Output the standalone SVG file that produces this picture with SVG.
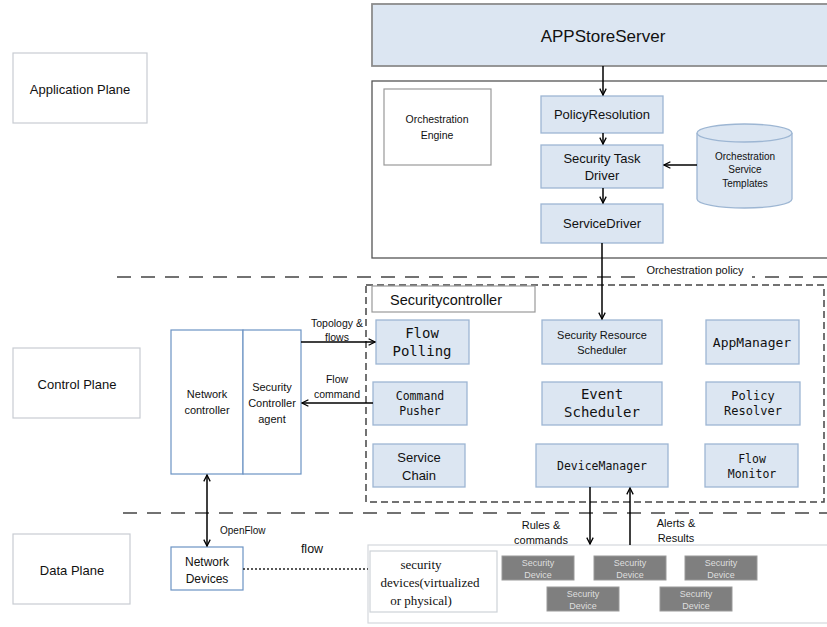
<svg xmlns="http://www.w3.org/2000/svg" width="827" height="627" viewBox="0 0 827 627">
<defs>
<marker id="ah" viewBox="0 0 10 10" refX="9" refY="5" markerWidth="8" markerHeight="8" orient="auto-start-reverse" markerUnits="userSpaceOnUse">
<path d="M1,1 L9,5 L1,9" fill="none" stroke="#000" stroke-width="1.6"/>
</marker>
<style>
text{font-family:"Liberation Sans",Arial,sans-serif;fill:#111;text-anchor:middle}
.mono{font-family:"DejaVu Sans Mono","Liberation Mono",monospace}
.serif{font-family:"Liberation Serif","Times New Roman",serif}
.plane{fill:#fff;stroke:#c8ccd2;stroke-width:1.2}
.blue{fill:#dce6f2;stroke:#9db6d3;stroke-width:1.3}
.nb{fill:#fff;stroke:#6c93c4;stroke-width:1.2}
.dev{fill:#7f7f7f;stroke:#9a9a9a;stroke-width:1}
.devt{fill:#dedede;font-size:9px}
.conn{stroke:#000;stroke-width:1.5;fill:none}
.dash{stroke:#444;stroke-width:1.5;fill:none;stroke-dasharray:14 10}
</style>
</defs>

<g id="application-plane"><rect class="plane" x="13" y="53" width="134" height="70"/><text x="80" y="94" font-size="13">Application Plane</text></g>
<g id="control-plane"><rect class="plane" x="13" y="348" width="127" height="70"/><text x="77" y="389" font-size="13">Control Plane</text></g>
<g id="data-plane"><rect class="plane" x="13" y="534" width="117" height="70"/><text x="72" y="575" font-size="13">Data Plane</text></g>

<g id="plane-separators">
<line class="dash" x1="117" y1="277" x2="827" y2="277"/>
<line class="dash" x1="123" y1="513" x2="827" y2="513"/>
</g>

<g id="appstoreserver"><rect x="372" y="4" width="460" height="62" fill="#dce6f2" stroke="#8c8c8c" stroke-width="1.8"/><text x="603" y="42" font-size="17">APPStoreServer</text></g>

<g id="orchestration-area"><rect x="372" y="81" width="460" height="177" fill="#fff" stroke="#555" stroke-width="1.3"/></g>
<g id="orchestration-engine"><rect x="384" y="89" width="107" height="76" fill="#fff" stroke="#999" stroke-width="1.2"/><text x="437" y="123" font-size="10.5">Orchestration</text><text x="437" y="139" font-size="10.5">Engine</text></g>
<g id="policyresolution"><rect class="blue" x="541" y="96" width="122" height="37"/><text x="602" y="119" font-size="13">PolicyResolution</text></g>
<g id="security-task-driver"><rect class="blue" x="541" y="145" width="122" height="43"/><text x="602" y="163" font-size="13">Security Task</text><text x="602" y="180" font-size="13">Driver</text></g>
<g id="servicedriver"><rect class="blue" x="541" y="204" width="122" height="39"/><text x="602" y="228" font-size="13">ServiceDriver</text></g>
<g id="orchestration-service-templates">
<path d="M697,133 L697,199 A47.5,9 0 0 0 792,199 L792,133" fill="#dce6f2" stroke="#9db6d3" stroke-width="1.3"/>
<ellipse cx="744.5" cy="133" rx="47.5" ry="9" fill="#dce6f2" stroke="#9db6d3" stroke-width="1.3"/>
<text x="745" y="160" font-size="10">Orchestration</text><text x="745" y="173" font-size="10">Service</text><text x="745" y="187" font-size="10">Templates</text>
</g>

<g id="securitycontroller-area"><rect x="366" y="285" width="458" height="217" fill="none" stroke="#444" stroke-width="1.5" stroke-dasharray="7 4"/></g>
<g id="securitycontroller-label"><rect x="372" y="286" width="163" height="26" fill="#fff" stroke="#999" stroke-width="1.2"/><text x="390" y="305" font-size="14.5" style="text-anchor:start">Securitycontroller</text></g>
<g id="flow-polling"><rect class="blue" x="376" y="320" width="93" height="44"/><text class="mono" x="422" y="338" font-size="14">Flow</text><text class="mono" x="422" y="356" font-size="14">Polling</text></g>
<g id="security-resource-scheduler"><rect class="blue" x="542" y="320" width="120" height="44"/><text x="602" y="339" font-size="11">Security Resource</text><text x="602" y="354" font-size="11">Scheduler</text></g>
<g id="appmanager"><rect class="blue" x="706" y="320" width="93" height="44"/><text class="mono" x="752" y="347" font-size="13">AppManager</text></g>
<g id="command-pusher"><rect class="blue" x="373" y="382" width="94" height="43"/><text class="mono" x="420" y="400" font-size="11.5">Command</text><text class="mono" x="420" y="415" font-size="11.5">Pusher</text></g>
<g id="event-scheduler"><rect class="blue" x="542" y="382" width="120" height="43"/><text class="mono" x="602" y="399" font-size="14">Event</text><text class="mono" x="602" y="417" font-size="14">Scheduler</text></g>
<g id="policy-resolver"><rect class="blue" x="706" y="382" width="94" height="43"/><text class="mono" x="753" y="400" font-size="12">Policy</text><text class="mono" x="753" y="415" font-size="12">Resolver</text></g>
<g id="service-chain"><rect class="blue" x="373" y="444" width="92" height="43"/><text x="419" y="462" font-size="13">Service</text><text x="419" y="480" font-size="13">Chain</text></g>
<g id="devicemanager"><rect class="blue" x="536" y="444" width="132" height="43"/><text class="mono" x="602" y="470" font-size="11.5">DeviceManager</text></g>
<g id="flow-monitor"><rect class="blue" x="705" y="444" width="93" height="43"/><text class="mono" x="752" y="463" font-size="11.5">Flow</text><text class="mono" x="752" y="478" font-size="11.5">Monitor</text></g>

<g id="network-controller"><rect class="nb" x="171" y="330" width="72" height="144"/><text x="207" y="398" font-size="11">Network</text><text x="207" y="414" font-size="11">controller</text></g>
<g id="security-controller-agent"><rect class="nb" x="243" y="330" width="58" height="144"/><text x="272" y="391" font-size="11">Security</text><text x="272" y="407" font-size="11">Controller</text><text x="272" y="423" font-size="11">agent</text></g>

<g id="network-devices"><rect class="nb" x="171" y="547" width="72" height="43"/><text x="207" y="566" font-size="12">Network</text><text x="207" y="583" font-size="12">Devices</text></g>

<g id="security-devices-area"><rect x="368" y="545" width="464" height="78" fill="#fff" stroke="#d4d8dc" stroke-width="1.2"/></g>
<g id="security-devices-label"><rect x="370" y="551" width="127" height="61" fill="#fff" stroke="#cdd2d8" stroke-width="1.2"/><text class="serif" x="421" y="569" font-size="13">security</text><text class="serif" x="430" y="587" font-size="13">devices(virtualized</text><text class="serif" x="421" y="605" font-size="13">or physical)</text></g>
<g id="security-device-1"><rect class="dev" x="502" y="556" width="72" height="24"/><text class="devt" x="538" y="566">Security</text><text class="devt" x="538" y="578">Device</text></g>
<g id="security-device-2"><rect class="dev" x="594" y="556" width="72" height="24"/><text class="devt" x="630" y="566">Security</text><text class="devt" x="630" y="578">Device</text></g>
<g id="security-device-3"><rect class="dev" x="685" y="556" width="72" height="24"/><text class="devt" x="721" y="566">Security</text><text class="devt" x="721" y="578">Device</text></g>
<g id="security-device-4"><rect class="dev" x="547" y="587" width="72" height="24"/><text class="devt" x="583" y="597">Security</text><text class="devt" x="583" y="609">Device</text></g>
<g id="security-device-5"><rect class="dev" x="660" y="587" width="72" height="24"/><text class="devt" x="696" y="597">Security</text><text class="devt" x="696" y="609">Device</text></g>

<g id="connectors">
<line class="conn" x1="603" y1="66" x2="603" y2="95" marker-end="url(#ah)"/>
<line class="conn" x1="603" y1="133" x2="603" y2="144" marker-end="url(#ah)"/>
<line class="conn" x1="603" y1="188" x2="603" y2="203" marker-end="url(#ah)"/>
<line class="conn" x1="697" y1="165" x2="664" y2="165" marker-end="url(#ah)"/>
<line class="conn" x1="602" y1="243" x2="602" y2="319" marker-end="url(#ah)"/>
<line class="conn" x1="301" y1="342" x2="375" y2="342" marker-end="url(#ah)"/>
<line class="conn" x1="373" y1="403" x2="302" y2="403" marker-end="url(#ah)"/>
<line class="conn" x1="207" y1="475" x2="207" y2="546" marker-start="url(#ah)" marker-end="url(#ah)"/>
<line x1="243" y1="569" x2="368" y2="569" stroke="#222" stroke-width="1.5" stroke-dasharray="2 2"/>
<line class="conn" x1="590" y1="487" x2="590" y2="544" marker-end="url(#ah)"/>
<line class="conn" x1="630" y1="545" x2="630" y2="488" marker-end="url(#ah)"/>
</g>

<g id="connector-labels">
<rect x="640" y="263" width="112" height="16" fill="#fff"/>
<text x="695" y="274" font-size="11">Orchestration policy</text>
<text x="337" y="327" font-size="10.5">Topology &amp;</text>
<text x="337" y="341" font-size="10.5">flows</text>
<text x="337" y="383" font-size="10.5">Flow</text>
<text x="337" y="398" font-size="10.5">command</text>
<text x="220" y="534" font-size="10" style="text-anchor:start">OpenFlow</text>
<text x="312" y="553" font-size="12.5">flow</text>
<text x="541" y="529" font-size="11">Rules &amp;</text>
<text x="541" y="544" font-size="11">commands</text>
<text x="676" y="527" font-size="11">Alerts &amp;</text>
<text x="676" y="542" font-size="11">Results</text>
</g>
</svg>
